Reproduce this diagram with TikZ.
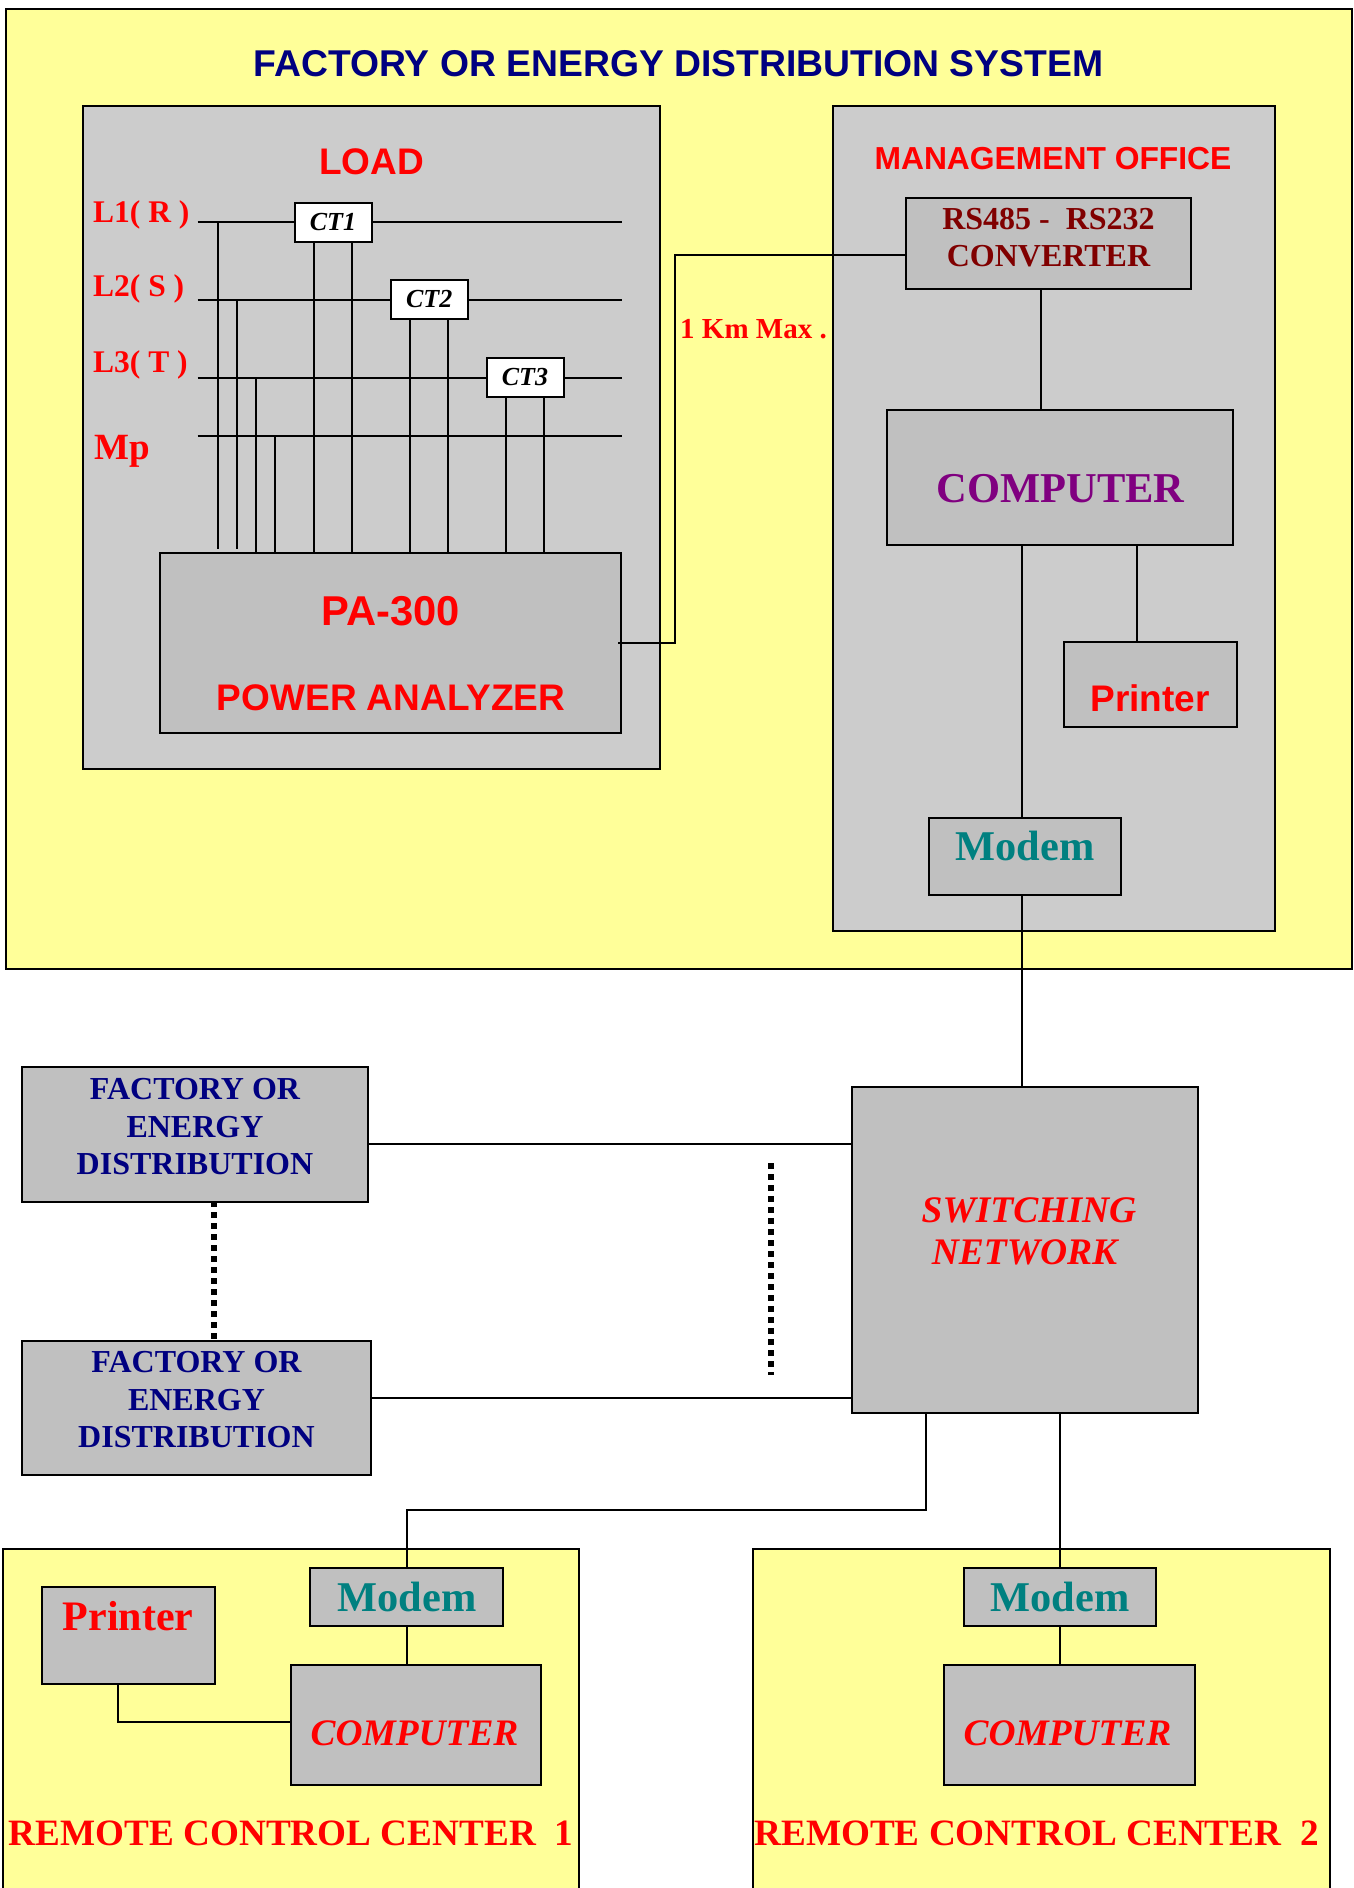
\documentclass[tikz,border=0pt]{standalone}
\usepackage{fontspec}
\setmainfont{Liberation Serif}
\newfontfamily\arialfont{Liberation Sans}
\usetikzlibrary{calc}
\definecolor{panelyellow}{HTML}{FFFF99}
\definecolor{panelgray}{HTML}{CCCCCC}
\definecolor{boxgray}{HTML}{C0C0C0}
\definecolor{titlenavy}{HTML}{000080}
\definecolor{convred}{HTML}{800000}
\definecolor{comppurple}{HTML}{800080}
\definecolor{modemteal}{HTML}{008080}
\tikzset{
  % kutular
  bx/.style={rectangle,draw=black,line width=2pt,inner sep=0pt,align=center},
  yellowpanel/.style={bx,fill=panelyellow},
  graypanel/.style={bx,fill=panelgray},
  graybox/.style={bx,fill=boxgray},
  ctbox/.style={bx,fill=white,minimum width=77pt,minimum height=39pt,
                font=\bfseries\itshape\fontsize{26}{28}\selectfont},
  wire/.style={draw=black,line width=2pt},
  dots/.style={draw=black,line width=6pt,dash pattern=on 6pt off 5pt},
  % yazilar
  arialtxt/.style={font=\arialfont\bfseries\fontsize{#1}{#1}\selectfont,text=red,inner sep=0pt},
  serif/.style={font=\bfseries\fontsize{#1}{#1}\selectfont,text=red,inner sep=0pt},
  seriftalic/.style={font=\bfseries\itshape\fontsize{#1}{#1}\selectfont,text=red,inner sep=0pt},
  phase/.style={serif=31.5,anchor=west},
  facttxt/.style={font=\bfseries\fontsize{32}{37.5}\selectfont,text=titlenavy,align=center,inner sep=0pt},
}
\begin{document}
\begin{tikzpicture}[x=1pt,y=-1pt]
\useasboundingbox (0,0) rectangle (1354,1888);
  % panels
  \node[yellowpanel,minimum width=1345.5pt,minimum height=960pt] (plant) at (678.8,488.5) {};
  \node[graypanel,minimum width=577pt,minimum height=662.5pt] (load) at (371.5,437.5) {};
  \node[graypanel,minimum width=442pt,minimum height=825pt] (office) at (1053.5,518.5) {};
  \node[yellowpanel,minimum width=576.5pt,minimum height=361pt] (remotea) at (291.2,1729.5) {};
  \node[yellowpanel,minimum width=577pt,minimum height=361pt] (remoteb) at (1041,1729.5) {};
  % load side
  \node[graybox,minimum width=461pt,minimum height=180pt] (pa) at (390.8,642.5) {};
  \node[ctbox] (ct1) at (333,222) {CT1};
  \node[ctbox] (ct2) at (429.2,299.5) {CT2};
  \node[ctbox] (ct3) at (525,377.5) {CT3};
  \coordinate (l1a) at (197.5,222);
  \coordinate (l1b) at (621.5,222);
  \coordinate (l2a) at (197.5,299.5);
  \coordinate (l2b) at (621.5,299.5);
  \coordinate (l3a) at (197.5,377.5);
  \coordinate (l3b) at (621.5,377.5);
  \coordinate (mpa) at (197.5,436);
  \coordinate (mpb) at (621.5,436);
  \draw[wire] (l1a) -- (ct1) -- (l1b);
  \draw[wire] (l2a) -- (ct2) -- (l2b);
  \draw[wire] (l3a) -- (ct3) -- (l3b);
  \draw[wire] (mpa) -- (mpb);
  \coordinate (t1) at (218,222);
  \coordinate (t2) at (237,299.5);
  \coordinate (t3) at (256,377.5);
  \coordinate (t4) at (275,436);
  \draw[wire,shorten >=3pt] (t1) -- (t1 |- pa.north);
  \draw[wire,shorten >=3pt] (t2) -- (t2 |- pa.north);
  \draw[wire] (t3) -- (t3 |- pa.north);
  \draw[wire] (t4) -- (t4 |- pa.north);
  \foreach \c/\d in {ct1/19,ct2/19,ct3/19}{
    \draw[wire] ([xshift=-\d pt]\c.south) -- ([xshift=-\d pt]\c.south |- pa.north);
    \draw[wire] ([xshift=\d pt]\c.south) -- ([xshift=\d pt]\c.south |- pa.north);
  }
  % office side
  \node[graybox,minimum width=285pt,minimum height=91pt] (conv) at (1048.8,243) {};
  \node[graybox,minimum width=346.5pt,minimum height=135pt] (comp) at (1060.2,477) {};
  \node[graybox,minimum width=173pt,minimum height=85.5pt] (prn) at (1150,684.7) {};
  \node[graybox,minimum width=192pt,minimum height=77pt] (modem) at (1025,856) {};
  \coordinate (bend) at (675.3,255);
  \draw[wire] ([xshift=-4pt]pa.east) -| (bend) -- (bend -| conv.west);
  \coordinate (ca) at (1040.5,300);
  \coordinate (cb) at (1021.5,500);
  \coordinate (cc) at (1136.5,500);
  \draw[wire] (ca |- conv.south) -- (ca |- comp.north);
  \draw[wire] (cb |- comp.south) -- (cb |- modem.north);
  \draw[wire] (cc |- comp.south) -- (cc |- prn.north);
  % network
  \node[graybox,minimum width=346.5pt,minimum height=326pt] (sw) at (1025,1249.5) {};
  \node[graybox,minimum width=346pt,minimum height=135pt] (facta) at (195,1134) {};
  \node[graybox,minimum width=349pt,minimum height=134pt] (factb) at (196.5,1407.5) {};
  \draw[wire] (cb |- modem.south) -- (cb |- sw.north);
  \coordinate (fa) at (600,1143.5);
  \coordinate (fb) at (600,1397.5);
  \draw[wire] (fa -| facta.east) -- (fa -| sw.west);
  \draw[wire] (fb -| factb.east) -- (fb -| sw.west);
  \draw[dots] (214,1201) -- (214,1340);
  \coordinate (da) at (771,1163);
  \coordinate (db) at (771,1375);
  \draw[dots] (da) -- (db);
  % remote centres
  \node[graybox,minimum width=173pt,minimum height=97pt] (prna) at (128,1635.5) {};
  \node[graybox,minimum width=192.5pt,minimum height=58.5pt] (modema) at (406.5,1597.2) {};
  \node[graybox,minimum width=250pt,minimum height=120.5pt] (compa) at (416,1725) {};
  \node[graybox,minimum width=192.5pt,minimum height=58.5pt] (modemb) at (1060,1597.2) {};
  \node[graybox,minimum width=250.5pt,minimum height=120.5pt] (compb) at (1069.6,1725) {};
  \coordinate (ra) at (925.5,1510);
  \coordinate (pj) at (118,1721.7);
  \draw[wire] (ra |- sw.south) -- (ra) -| (modema.north);
  \draw[wire] (modemb.north |- sw.south) -- (modemb.north);
  \draw[wire] (modema.south) -- (modema.south |- compa.north);
  \draw[wire] (modemb.south) -- (modemb.south |- compb.north);
  \draw[wire] (pj |- prna.south) -- (pj) -- (pj -| compa.west);
  % labels
  \node[arialtxt=37.3,text=titlenavy] (title) at (678.5,64) {FACTORY OR ENERGY DISTRIBUTION SYSTEM};
  \node[arialtxt=37] (loadtxt) at (371.5,162) {LOAD};
  \node[phase] (tl1) at (93,215) {L1( R )};
  \node[phase] (tl2) at (93,289) {L2( S )};
  \node[phase] (tl3) at (93,365) {L3( T )};
  \node[serif=37,anchor=west] (tmp) at (94,451) {Mp};
  \node[arialtxt=41.7] (patxt) at (391,611) {PA-300};
  \node[arialtxt=37] (antxt) at (391,698) {POWER ANALYZER};
  \node[arialtxt=31.8] (officetxt) at (1053,159) {MANAGEMENT OFFICE};
  \node[serif=29] (kmtxt) at (753.5,329) {1 Km Max .};
  \node[serif=32,text=convred,align=center,font=\bfseries\fontsize{32}{37}\selectfont] (convtxt) at (1048.5,238) {RS485 -\ \ RS232\\CONVERTER};
  \node[serif=42.5,text=comppurple] (comptxt) at (1060.5,488.5) {COMPUTER};
  \node[arialtxt=37] (prntxt) at (1150,698) {Printer};
  \node[serif=42.4,text=modemteal] (modemtxt) at (1025,846) {Modem};
  \node[facttxt] (factatxt) at (195,1127) {FACTORY OR\\ENERGY\\DISTRIBUTION};
  \node[facttxt] (factbtxt) at (196.5,1400) {FACTORY OR\\ENERGY\\DISTRIBUTION};
  \node[seriftalic=37.5,align=center,font=\bfseries\itshape\fontsize{37.5}{42}\selectfont] (swtxt) at (1029,1231) {SWITCHING\\NETWORK\hspace{9pt}\mbox{}};
  \node[serif=42] (prnatxt) at (128,1616) {Printer};
  \node[serif=42.4,text=modemteal] (modematxt) at (407,1597) {Modem};
  \node[serif=42.4,text=modemteal] (modembtxt) at (1060,1597) {Modem};
  \node[seriftalic=37.4] (compatxt) at (414.5,1733) {COMPUTER};
  \node[seriftalic=37.4] (compbtxt) at (1067.5,1733) {COMPUTER};
  \node[serif=37.2] (remotetxta) at (291,1833) {REMOTE CONTROL CENTER\ \ 1};
  \node[serif=37.2] (remotetxtb) at (1036.5,1833) {REMOTE CONTROL CENTER\ \ 2};
\end{tikzpicture}
\end{document}
